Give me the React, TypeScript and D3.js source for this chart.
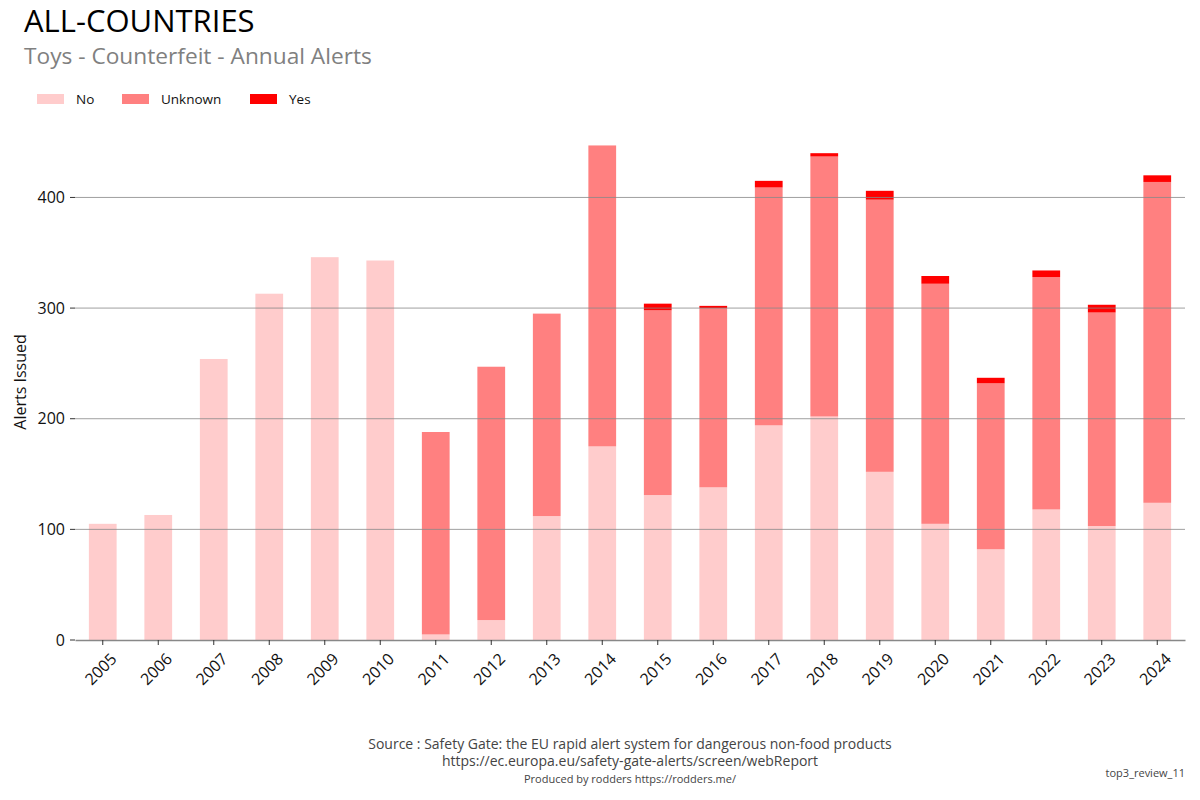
import * as d3 from "d3";
import { useEffect, useRef } from "react";

const years = [
  "2005", "2006", "2007", "2008", "2009", "2010", "2011", "2012", "2013", "2014",
  "2015", "2016", "2017", "2018", "2019", "2020", "2021", "2022", "2023", "2024",
];
const noValues = [105, 113, 254, 313, 346, 343, 5, 18, 112, 175, 131, 138, 194, 202, 152, 105, 82, 118, 103, 124];
const unknownValues = [0, 0, 0, 0, 0, 0, 183, 229, 183, 272, 167, 162, 215, 235, 246, 217, 150, 210, 193, 290];
const yesValues = [0, 0, 0, 0, 0, 0, 0, 0, 0, 0, 6, 2, 6, 3, 8, 7, 5, 6, 7, 6];
const yTicks = [0, 100, 200, 300, 400];

const seriesNames = ["No", "Unknown", "Yes"];
const seriesColors = ["#ffcccc", "#ff8080", "#ff0000"];

const width = 1200;
const height = 800;
const margin = { top: 120, right: 15, bottom: 160, left: 75 };
const font = "'Open Sans', 'Noto Sans', sans-serif";

export default function App() {
  const axisRef = useRef<SVGGElement>(null);

  useEffect(() => {
    document.body.style.margin = "0";
  }, []);

  const x = d3.scaleBand<string>()
    .domain(years)
    .range([margin.left, width - margin.right])
    .paddingInner(0.5)
    .paddingOuter(0.25);

  const y = d3.scaleLinear()
    .domain([0, 470])
    .range([height - margin.bottom, margin.top]);

  const rows = years.map((year, i) => ({
    year,
    No: noValues[i],
    Unknown: unknownValues[i],
    Yes: yesValues[i],
  }));
  const stacked = d3.stack<(typeof rows)[number]>().keys(seriesNames)(rows);

  useEffect(() => {
    if (!axisRef.current) return;
    const g = d3.select(axisRef.current);
    g.selectAll("*").remove();
    const axis = g.append("g")
      .attr("transform", `translate(0, ${height - margin.bottom})`)
      .call(d3.axisBottom(x).tickSize(5).tickSizeOuter(0));
    axis.select(".domain").attr("stroke", "#888").attr("stroke-width", 1.5);
    axis.selectAll(".tick line").attr("stroke", "#333");
    axis.selectAll(".tick text")
      .attr("font-family", font)
      .attr("font-size", 16)
      .attr("fill", "#111")
      .attr("text-anchor", "end")
      .attr("x", 0)
      .attr("y", 0)
      .attr("dy", "0")
      .attr("transform", "translate(15, 20) rotate(-45)");
  }, []);

  const plotLeft = margin.left;
  const plotRight = width - margin.right;

  return (
    <svg width={width} height={height} style={{ display: "block", background: "#fff" }}>
      <text x={24} y={32} fontFamily={font} fontSize={31} fill="#000">ALL-COUNTRIES</text>
      <text x={24} y={64} fontFamily={font} fontSize={22.7} fill="#808080">Toys - Counterfeit - Annual Alerts</text>

      {seriesNames.map((name, i) => {
        const lx = [37, 122, 250][i];
        return (
          <g key={name}>
            <rect x={lx} y={94} width={27} height={10} fill={seriesColors[i]} />
            <text x={lx + 39} y={104} fontFamily={font} fontSize={13.5} fill="#111">{name}</text>
          </g>
        );
      })}

      {stacked.map((layer, si) => (
        <g key={layer.key} fill={seriesColors[si]}>
          {layer.map((d, i) => {
            const h = y(d[0]) - y(d[1]);
            if (h <= 0) return null;
            return (
              <rect
                key={years[i]}
                x={x(years[i])}
                y={y(d[1])}
                width={x.bandwidth()}
                height={h}
              />
            );
          })}
        </g>
      ))}

      {yTicks.filter((t) => t > 0).map((t) => (
        <line key={t} x1={plotLeft} x2={plotRight} y1={y(t)} y2={y(t)} stroke="#888" strokeOpacity={0.8} strokeWidth={1} />
      ))}
      {yTicks.map((t) => (
        <g key={`yt${t}`}>
          <line x1={plotLeft - 5} x2={plotLeft} y1={y(t)} y2={y(t)} stroke="#333" />
          <text x={plotLeft - 10} y={y(t)} dy="0.35em" textAnchor="end" fontFamily={font} fontSize={16} fill="#111">{t}</text>
        </g>
      ))}

      <g ref={axisRef} />

      <text
        transform={`translate(26, 382) rotate(-90)`}
        textAnchor="middle"
        fontFamily={font}
        fontSize={16}
        fill="#111"
      >
        Alerts Issued
      </text>

      <text x={630} y={749} textAnchor="middle" fontFamily={font} fontSize={14} fill="#444">
        Source : Safety Gate: the EU rapid alert system for dangerous non-food products
      </text>
      <text x={630} y={766} textAnchor="middle" fontFamily={font} fontSize={14} fill="#444">
        https://ec.europa.eu/safety-gate-alerts/screen/webReport
      </text>
      <text x={630} y={783} textAnchor="middle" fontFamily={font} fontSize={11} fill="#444">
        Produced by rodders https://rodders.me/
      </text>
      <text x={1185} y={777} textAnchor="end" fontFamily={font} fontSize={11} fill="#444">
        top3_review_11
      </text>
    </svg>
  );
}
